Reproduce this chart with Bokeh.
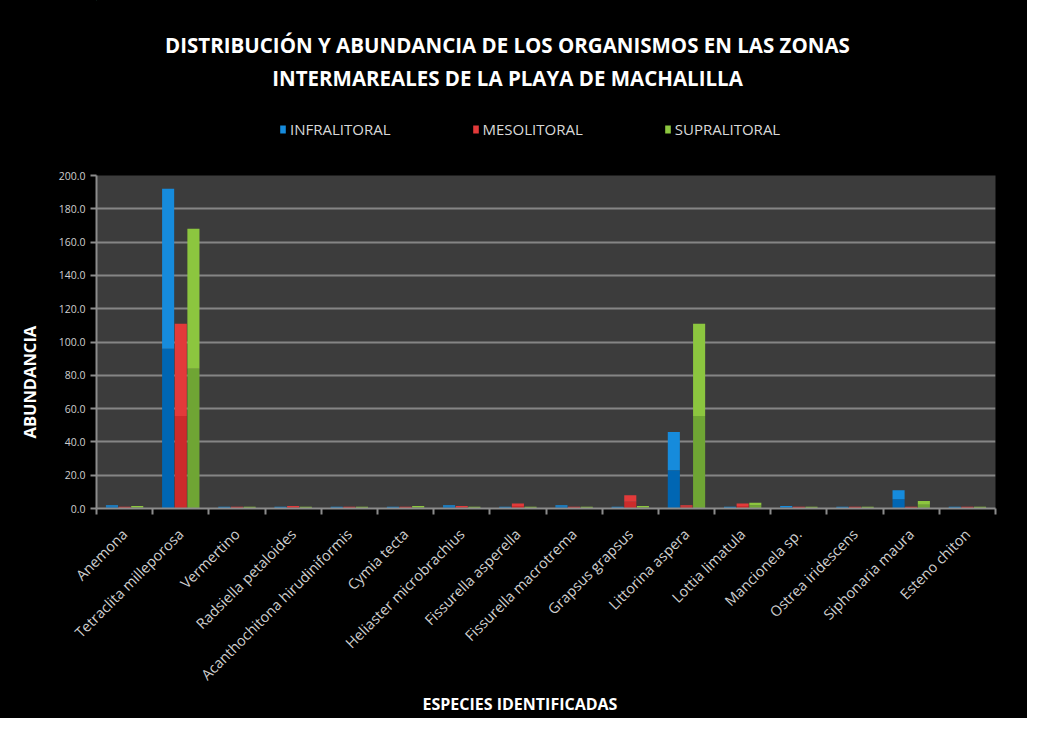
import pandas as pd
from math import pi
from bokeh.plotting import figure
from bokeh.layouts import column
from bokeh.models import (Range1d, FixedTicker, Legend, LegendItem, ColumnDataSource,
                          NumeralTickFormatter, Label, Title)
from bokeh.embed import file_html
from bokeh.resources import INLINE

species = ["Anemona", "Tetraclita milleporosa", "Vermertino", "Radsiella petaloides",
           "Acanthochitona hirudiniformis", "Cymia tecta", "Heliaster microbrachius",
           "Fissurella asperella", "Fissurella macrotrema", "Grapsus grapsus",
           "Littorina aspera", "Lottia limatula", "Mancionela sp.", "Ostrea iridescens",
           "Siphonaria maura", "Esteno chiton"]
infralitoral = [2.0, 192.0, 1.0, 1.0, 1.0, 1.0, 2.0, 1.0, 2.0, 1.0, 46.0, 1.0, 1.5, 1.0, 11.0, 1.0]
mesolitoral = [1.0, 111.0, 1.0, 1.5, 1.0, 1.0, 1.5, 3.0, 1.0, 8.0, 2.0, 3.0, 1.0, 1.0, 1.0, 1.0]
supralitoral = [1.5, 168.0, 1.0, 1.0, 1.0, 1.5, 1.0, 1.0, 1.0, 1.5, 111.0, 3.5, 1.0, 1.0, 4.5, 1.0]
series_names = ["INFRALITORAL", "MESOLITORAL", "SUPRALITORAL"]
y_ticks = [0, 20, 40, 60, 80, 100, 120, 140, 160, 180, 200]

title_lines = ["DISTRIBUCIÓN Y ABUNDANCIA DE LOS ORGANISMOS EN LAS ZONAS",
               "INTERMAREALES DE LA PLAYA DE MACHALILLA"]
x_title = "ESPECIES IDENTIFICADAS"
y_title = "ABUNDANCIA"

FONT = "Open Sans"
n = len(species)
W = 1027
HEAD_H = 166
LEFT, RIGHT = 96, 32
TOP, BOTTOM = 9, 210

colors_dark = ["#0066b3", "#cc2b2b", "#6fa534"]
colors_light = ["#168bdc", "#e23a3a", "#8cc63f"]

centers = [i + 0.5 for i in range(n)]
bounds = [i for i in range(n + 1)]

df = pd.DataFrame({"x": centers, "inf": infralitoral, "mes": mesolitoral, "sup": supralitoral})
df["inf_h"] = df["inf"] / 2
df["mes_h"] = df["mes"] / 2
df["sup_h"] = df["sup"] / 2
df["x_inf"] = df["x"] - 0.225
df["x_mes"] = df["x"]
df["x_sup"] = df["x"] + 0.225
src = ColumnDataSource(df)
bw = 0.215
specs = [("x_inf", "inf", "inf_h"), ("x_mes", "mes", "mes_h"), ("x_sup", "sup", "sup_h")]

# ---------------- header (title + legend) ----------------
head = figure(width=W, height=HEAD_H, x_range=Range1d(LEFT, W - RIGHT), y_range=Range1d(0, HEAD_H),
              output_backend="svg", toolbar_location=None,
              min_border_left=LEFT, min_border_right=RIGHT, min_border_top=0, min_border_bottom=0,
              background_fill_color="black", border_fill_color="black", outline_line_color=None,
              styles={"background-color": "black"})
head.axis.visible = False
head.grid.visible = False
for t, yy in zip(title_lines, [HEAD_H - 44, HEAD_H - 77]):
    head.add_layout(Label(x=507, y=yy, text=t, text_color="white",
                          text_font=FONT, text_font_size="20.5px", text_font_style="bold",
                          text_align="center", text_baseline="middle"))
legend_items = []
for (xc, col, hcol), name, c in zip(specs, series_names, colors_light):
    # legend swatches: zero-height marks of the same series (nothing visible in the header)
    r = head.vbar(x=xc, bottom=col, top=col, width=bw, source=src, fill_color=c, line_color=None)
    legend_items.append(LegendItem(label=name, renderers=[r]))
legend = Legend(items=legend_items, orientation="horizontal", location=(183, HEAD_H - 139),
                background_fill_alpha=0, border_line_color=None,
                label_text_color="#d9d9d9", label_text_font=FONT, label_text_font_size="15px",
                glyph_width=7, glyph_height=10, label_standoff=4, spacing=81,
                margin=0, padding=2)
head.add_layout(legend, "center")

# ---------------- main chart ----------------
p = figure(width=W, height=718 - HEAD_H, x_range=Range1d(0, n), y_range=Range1d(0, 200),
           output_backend="svg", toolbar_location=None,
           min_border_left=LEFT, min_border_right=RIGHT, min_border_top=TOP, min_border_bottom=BOTTOM,
           background_fill_color="#3c3c3c", border_fill_color="black", outline_line_color=None,
           styles={"background-color": "black"})

for (xc, col, hcol), dark, light in zip(specs, colors_dark, colors_light):
    p.vbar(x=xc, width=bw, bottom=0, top=hcol, source=src, fill_color=dark, line_color=None)
    p.vbar(x=xc, width=bw, bottom=hcol, top=col, source=src, fill_color=light, line_color=None)

# grid
p.xgrid.grid_line_color = None
p.ygrid.grid_line_color = "#858585"
p.ygrid.grid_line_width = 2
p.ygrid.ticker = FixedTicker(ticks=y_ticks)

# x axis
p.xaxis.ticker = FixedTicker(ticks=centers, minor_ticks=bounds)
p.xaxis.major_label_overrides = {c: s for c, s in zip(centers, species)}
p.xaxis.major_label_orientation = pi / 4
p.xaxis.major_tick_line_color = None
p.xaxis.minor_tick_line_color = "#8c8c8c"
p.xaxis.minor_tick_line_width = 2
p.xaxis.minor_tick_in = 0
p.xaxis.minor_tick_out = 6
p.xaxis.axis_line_color = "#8c8c8c"
p.xaxis.axis_line_width = 2
p.xaxis.major_label_text_color = "#cfcfcf"
p.xaxis.major_label_text_font = FONT
p.xaxis.major_label_text_font_size = "14.5px"
p.xaxis.major_label_standoff = 17

# y axis
p.yaxis.ticker = FixedTicker(ticks=y_ticks)
p.yaxis.formatter = NumeralTickFormatter(format="0.0")
p.yaxis.major_tick_line_color = "#8c8c8c"
p.yaxis.major_tick_line_width = 2
p.yaxis.major_tick_in = 0
p.yaxis.major_tick_out = 6
p.yaxis.minor_tick_line_color = None
p.yaxis.axis_line_color = "#8c8c8c"
p.yaxis.axis_line_width = 2
p.yaxis.major_label_text_color = "#cfcfcf"
p.yaxis.major_label_text_font = FONT
p.yaxis.major_label_text_font_size = "10.5px"
p.yaxis.major_label_standoff = 5

# axis titles as side titles
p.add_layout(Title(text=x_title, align="left", offset=326, text_color="white",
                   text_font=FONT, text_font_size="16px", text_font_style="bold",
                   standoff=-5), "below")
p.add_layout(Title(text=y_title, align="left", offset=70, text_color="white",
                   text_font=FONT, text_font_size="16.5px", text_font_style="bold",
                   standoff=29), "left")

layout = column(head, p, spacing=0, styles={"background-color": "black"})
open("out.html", "w").write(file_html(layout, INLINE))
